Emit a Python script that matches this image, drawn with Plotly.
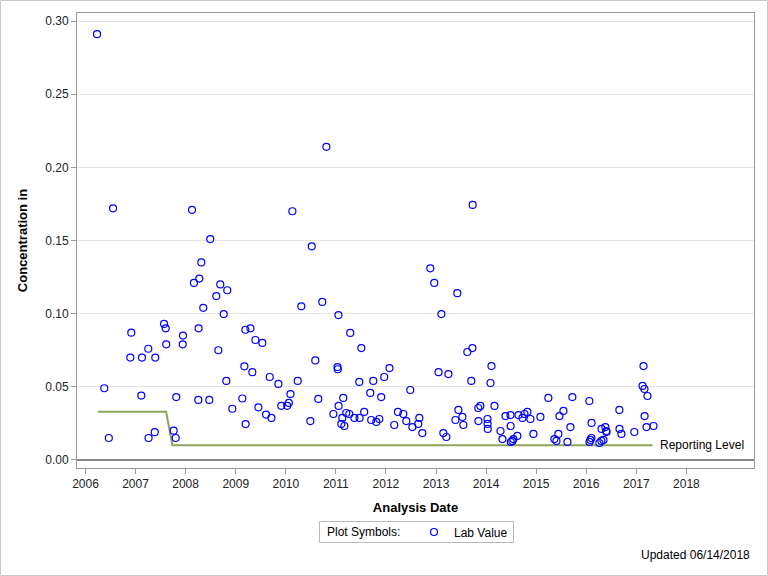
import plotly.graph_objects as go

# Lab sample results
sample_dates = [
    "2006-03-26", "2006-05-18", "2006-06-20", "2006-07-21", "2006-11-24", "2006-12-01",
    "2007-02-12", "2007-02-17", "2007-04-04", "2007-04-06", "2007-05-21", "2007-05-25",
    "2007-07-28", "2007-08-09", "2007-08-13", "2007-10-06", "2007-10-21", "2007-10-25",
    "2007-12-11", "2007-12-13",
    "2008-02-17", "2008-03-02", "2008-04-03", "2008-04-05", "2008-04-10", "2008-04-25",
    "2008-05-09", "2008-06-22", "2008-06-29", "2008-08-12", "2008-08-27", "2008-09-10",
    "2008-10-05", "2008-10-24", "2008-10-31", "2008-12-07",
    "2009-02-18", "2009-03-05", "2009-03-12", "2009-03-14", "2009-04-18", "2009-05-02",
    "2009-05-24", "2009-06-15", "2009-07-14", "2009-08-10", "2009-09-06", "2009-09-18",
    "2009-11-08", "2009-11-29",
    "2010-01-11", "2010-01-23", "2010-02-04", "2010-02-18", "2010-03-29", "2010-04-24",
    "2010-06-29", "2010-07-09", "2010-08-04", "2010-08-26", "2010-09-24", "2010-10-24",
    "2010-12-14",
    "2011-01-13", "2011-01-15", "2011-01-20", "2011-01-21", "2011-02-10", "2011-02-17",
    "2011-02-24", "2011-03-04", "2011-03-18", "2011-04-09", "2011-04-16", "2011-05-16",
    "2011-06-21", "2011-06-23", "2011-07-06", "2011-07-27", "2011-09-09", "2011-09-16",
    "2011-10-01", "2011-10-23", "2011-11-14", "2011-11-28", "2011-12-20",
    "2012-01-27", "2012-03-02", "2012-03-29", "2012-05-07", "2012-05-29", "2012-06-27",
    "2012-07-12", "2012-08-24", "2012-09-01", "2012-09-23", "2012-11-20", "2012-12-19",
    "2013-01-19", "2013-02-09", "2013-02-23", "2013-03-17", "2013-04-01", "2013-05-22",
    "2013-06-05", "2013-06-13", "2013-07-12", "2013-07-19", "2013-08-17", "2013-09-15",
    "2013-09-23", "2013-09-25", "2013-11-05", "2013-11-06", "2013-11-20",
    "2014-01-11", "2014-01-12", "2014-01-13", "2014-02-02", "2014-02-09", "2014-03-03",
    "2014-04-16", "2014-04-30", "2014-05-22", "2014-06-28", "2014-06-29", "2014-06-30",
    "2014-07-12", "2014-07-19", "2014-08-17", "2014-08-25", "2014-09-23", "2014-10-08",
    "2014-10-29", "2014-11-20", "2014-12-12",
    "2015-02-01", "2015-03-31", "2015-05-14", "2015-05-29", "2015-06-12", "2015-06-20",
    "2015-07-19", "2015-08-17", "2015-09-08", "2015-09-22",
    "2016-01-24", "2016-01-25", "2016-02-01", "2016-02-08", "2016-02-09", "2016-04-06",
    "2016-04-21", "2016-05-06", "2016-04-22", "2016-05-20", "2016-05-27", "2016-05-28",
    "2016-08-30", "2016-08-31", "2016-09-14", "2016-12-17",
    "2017-02-15", "2017-02-22", "2017-03-01", "2017-03-02", "2017-03-16", "2017-03-23",
    "2017-05-06",
]
lab_values = [
    0.291, 0.049, 0.015, 0.172, 0.070, 0.087,
    0.044, 0.070, 0.076, 0.015, 0.019, 0.070,
    0.093, 0.090, 0.079, 0.020, 0.015, 0.043,
    0.079, 0.085,
    0.171, 0.121, 0.041, 0.090, 0.124, 0.135,
    0.104, 0.041, 0.151, 0.112, 0.075, 0.120,
    0.0997, 0.054, 0.116, 0.035,
    0.042, 0.064, 0.089, 0.0245, 0.090, 0.060,
    0.082, 0.036, 0.080, 0.031, 0.0567, 0.0287,
    0.052, 0.037,
    0.037, 0.039, 0.045, 0.170, 0.054, 0.105,
    0.0266, 0.146, 0.068, 0.0417, 0.108, 0.214,
    0.0314,
    0.0635, 0.062, 0.099, 0.0369, 0.0246, 0.0287,
    0.0424, 0.0232, 0.0321, 0.0314, 0.0868, 0.0287,
    0.0533, 0.0287, 0.0765, 0.0328, 0.0458, 0.0273,
    0.054, 0.026, 0.028, 0.043, 0.0567,
    0.0628, 0.0239, 0.0328, 0.0314, 0.0266, 0.0478,
    0.0225, 0.0246, 0.0287, 0.0184, 0.131, 0.121,
    0.060, 0.0997, 0.0184, 0.0157, 0.0587, 0.0273,
    0.114, 0.0342, 0.0294, 0.0239, 0.0738, 0.054,
    0.0765, 0.1743, 0.0355, 0.0266, 0.0369,
    0.028, 0.0246, 0.0212, 0.0526, 0.0642, 0.0369,
    0.0198, 0.0143, 0.030, 0.0307, 0.0232, 0.0123,
    0.013, 0.0143, 0.0164, 0.0307, 0.0287, 0.0314,
    0.0328, 0.028, 0.0178,
    0.0294, 0.0424, 0.0143, 0.013, 0.0178, 0.030,
    0.0335, 0.0123, 0.0225, 0.043,
    0.0403, 0.0123, 0.0137, 0.015, 0.0253, 0.0116,
    0.013, 0.0137, 0.0212, 0.0225, 0.0198, 0.0191,
    0.0342, 0.0212, 0.0178, 0.0191,
    0.0506, 0.0642, 0.0485, 0.030, 0.0225, 0.0437,
    0.0232,
]

# Reporting level step line
rl_dates = ["2006-04-01", "2007-08-12", "2007-09-27", "2017-04-28"]
rl_values = [0.033, 0.033, 0.010, 0.010]

year_ticks = [f"{y}-01-01" for y in range(2006, 2019)]
year_labels = [str(y) for y in range(2006, 2019)]

FONT = "Arial, Liberation Sans, sans-serif"
AXIS_GRAY = "#9a9a9a"

fig = go.Figure()
fig.add_trace(
    go.Scatter(
        x=rl_dates,
        y=rl_values,
        mode="lines",
        line=dict(color="#8ca55a", width=2),
        showlegend=False,
        hoverinfo="skip",
    )
)
fig.add_trace(
    go.Scatter(
        x=sample_dates,
        y=lab_values,
        mode="markers",
        name="Lab Value",
        marker=dict(
            symbol="circle-open", size=7, color="#0000ff", line=dict(width=1.2)
        ),
    )
)

# plot area in pixels: left 77, right 754, top 13, bottom 468
ml, mr, mt, mb = 77, 14, 13, 108
W, H = 768, 576
pw, ph = W - ml - mr, H - mt - mb


def py(pixel_y):
    # page pixel row -> paper y
    return (mt + ph - pixel_y) / ph


def px(pixel_x):
    # page pixel column -> paper x
    return (pixel_x - ml) / pw


fig.update_layout(
    width=W,
    height=H,
    margin=dict(l=ml, r=mr, t=mt, b=mb, autoexpand=False),
    paper_bgcolor="white",
    plot_bgcolor="white",
    font=dict(family=FONT, size=12, color="#000000"),
    showlegend=True,
    legend=dict(
        orientation="h",
        x=px(414),
        xanchor="left",
        y=py(532),
        yanchor="middle",
        borderwidth=0,
        bgcolor="rgba(0,0,0,0)",
        font=dict(size=12),
    ),
)

fig.update_xaxes(
    range=["2005-10-31", "2019-05-09"],
    tickvals=year_ticks,
    ticktext=year_labels,
    ticks="outside",
    ticklen=5,
    tickcolor=AXIS_GRAY,
    showline=True,
    linecolor=AXIS_GRAY,
    linewidth=1,
    mirror=True,
    showgrid=False,
    title=dict(text="<b>Analysis Date</b>", font=dict(size=13), standoff=12),
    tickfont=dict(size=12, color="#222222"),
)
fig.update_yaxes(
    range=[-0.0055, 0.3055],
    tickvals=[0, 0.05, 0.10, 0.15, 0.20, 0.25, 0.30],
    tickformat=".2f",
    ticks="outside",
    ticklen=5,
    tickcolor=AXIS_GRAY,
    showline=True,
    linecolor=AXIS_GRAY,
    linewidth=1,
    mirror=True,
    showgrid=True,
    gridcolor="#e4e4e4",
    gridwidth=1,
    zeroline=True,
    zerolinecolor="#888888",
    zerolinewidth=2,
    title=dict(text="<b>Concentration in</b>", font=dict(size=13), standoff=14),
    tickfont=dict(size=12, color="#222222"),
)

fig.add_annotation(
    x=rl_dates[-1],
    y=rl_values[-1],
    xref="x",
    yref="y",
    text="Reporting Level",
    showarrow=False,
    xanchor="left",
    yanchor="middle",
    xshift=6,
    font=dict(size=12),
)
fig.add_annotation(
    x=px(752),
    y=py(555),
    xref="paper",
    yref="paper",
    text="Updated 06/14/2018",
    showarrow=False,
    xanchor="right",
    yanchor="middle",
    font=dict(size=12),
)

# legend frame and its "Plot Symbols:" caption
fig.add_shape(
    type="rect",
    xref="paper",
    yref="paper",
    x0=px(319.5),
    x1=px(513.5),
    y0=py(542.5),
    y1=py(521.5),
    line=dict(color="#b8b8b8", width=1),
)
fig.add_annotation(
    x=px(325),
    y=py(532),
    xref="paper",
    yref="paper",
    text="Plot Symbols:",
    showarrow=False,
    xanchor="left",
    yanchor="middle",
    font=dict(size=12),
)

# light border round the whole image
fig.add_shape(
    type="rect",
    xref="paper",
    yref="paper",
    x0=px(0.5),
    x1=px(W - 0.5),
    y0=py(H - 0.5),
    y1=py(0.5),
    line=dict(color="#c8c8c8", width=1),
    layer="below",
)

# drop the browser's default 8px body margin so the figure sits at 0,0
fig.write_html(
    "out.html",
    config={"displayModeBar": False},
    post_script="document.body.style.margin='0';",
)
